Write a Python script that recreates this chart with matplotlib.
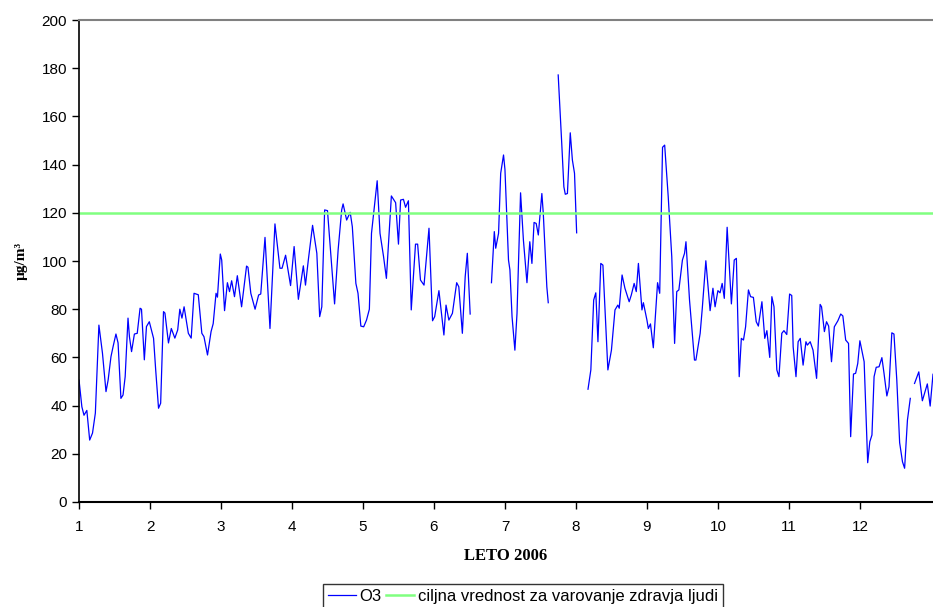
import matplotlib.pyplot as plt
import numpy as np

nan = np.nan

# month position (1 = start of Jan) and daily O3 concentration, NaN = missing data
month = [
    1.00, 1.04, 1.07, 1.11, 1.15, 1.19, 1.23, 1.28, 1.33, 1.38, 1.41, 1.45, 1.48, 1.52, 1.55,
    1.59, 1.62, 1.65, 1.69, 1.71, 1.74, 1.78, 1.82, 1.86, 1.88, 1.92, 1.95, 1.99, 2.05, 2.08,
    2.12, 2.15, 2.19, 2.21, 2.26, 2.30, 2.35, 2.39, 2.42, 2.45, 2.48, 2.54, 2.58, 2.62, 2.68,
    2.73, 2.76, 2.81, 2.86, 2.89, 2.93, 2.95, 2.99, 3.01, 3.05, 3.09, 3.12, 3.15, 3.19, 3.23,
    3.29, 3.36, 3.38, 3.42, 3.48, 3.53, 3.56, 3.62, 3.69, 3.76, 3.83, 3.86, 3.91, 3.98, 4.03,
    4.09, 4.16, 4.19, 4.23, 4.29, 4.35, 4.39, 4.42, 4.46, 4.50, 4.60, 4.65, 4.70, 4.72, 4.77,
    4.82, 4.85, 4.90, 4.93, 4.97, 5.01, 5.05, 5.09, 5.12, 5.20, 5.24, 5.29, 5.33, 5.40, 5.46,
    5.50, 5.53, 5.57, 5.60, 5.64, 5.68, 5.74, 5.77, 5.81, 5.86, 5.93, 5.98, 6.01, 6.07, 6.14,
    6.17, 6.21, 6.26, 6.32, 6.35, 6.40, 6.44, 6.47, 6.51, 6.66,
    6.81, 6.85, 6.87, 6.91, 6.94, 6.98, 7.00, 7.05, 7.07, 7.10, 7.14, 7.17, 7.22, 7.26, 7.31,
    7.35, 7.38, 7.41, 7.44, 7.47, 7.52, 7.54, 7.59, 7.61, 7.68,
    7.75, 7.80, 7.83, 7.85, 7.88, 7.92, 7.95, 7.98, 8.01, 8.09,
    8.17, 8.21, 8.25, 8.28, 8.31, 8.35, 8.38, 8.45, 8.50, 8.55, 8.59, 8.61, 8.65, 8.69, 8.75,
    8.78, 8.82, 8.85, 8.88, 8.93, 8.95, 9.00, 9.02, 9.05, 9.09, 9.15, 9.18, 9.22, 9.25, 9.30,
    9.35, 9.39, 9.42, 9.45, 9.50, 9.53, 9.55, 9.60, 9.67, 9.69, 9.75, 9.78, 9.83, 9.89, 9.93,
    9.96, 10.00, 10.03, 10.06, 10.09, 10.13, 10.19, 10.23, 10.26, 10.30, 10.33, 10.36, 10.39, 10.43, 10.46,
    10.50, 10.54, 10.57, 10.62, 10.66, 10.69, 10.73, 10.76, 10.79, 10.83, 10.86, 10.90, 10.93, 10.97, 11.01,
    11.04, 11.06, 11.10, 11.13, 11.16, 11.20, 11.24, 11.26, 11.30, 11.34, 11.39, 11.44, 11.46, 11.50, 11.53,
    11.56, 11.60, 11.64, 11.69, 11.73, 11.76, 11.80, 11.84, 11.87, 11.91, 11.94, 11.97, 12.00, 12.06, 12.11,
    12.14, 12.17, 12.20, 12.23, 12.27, 12.31, 12.34, 12.38, 12.41, 12.45, 12.48, 12.52, 12.56, 12.60, 12.63,
    12.67, 12.71, 12.74,
    12.77, 12.83, 12.88, 12.95, 12.99, 13.03,
]
o3 = [
    50.6, 39.5, 36.0, 38.0, 25.7, 28.6, 36.9, 73.4, 61.8, 45.8, 50.6, 60.3, 64.5, 69.7, 66.0,
    43.0, 44.4, 52.0, 76.3, 68.6, 62.4, 69.7, 70.0, 80.4, 80.0, 59.0, 72.8, 74.8, 67.9, 54.8,
    38.9, 41.0, 79.0, 78.4, 66.0, 72.0, 68.0, 71.4, 80.0, 76.3, 81.0, 70.0, 68.0, 86.6, 86.0,
    70.0, 68.6, 61.0, 70.7, 74.0, 86.6, 85.0, 102.9, 100.4, 79.4, 91.0, 87.3, 91.8, 85.2, 93.9,
    81.0, 97.9, 97.4, 86.6, 80.0, 85.9, 86.3, 109.8, 72.0, 115.4, 97.0, 97.0, 102.4, 89.8, 106.0,
    84.1, 98.0, 90.0, 100.4, 114.8, 103.2, 76.9, 81.0, 121.2, 120.9, 82.2, 104.6, 121.2, 123.7, 117.0,
    120.2, 114.2, 90.7, 86.6, 73.0, 72.7, 75.5, 80.0, 111.5, 133.3, 111.5, 101.8, 92.8, 127.0, 124.2,
    107.0, 125.3, 125.6, 122.3, 125.0, 79.7, 107.0, 107.0, 92.1, 90.0, 113.6, 75.2, 76.9, 87.7, 69.3,
    81.7, 75.5, 78.3, 91.0, 89.3, 70.0, 93.5, 103.2, 78.0, nan,
    91.0, 112.2, 105.3, 111.5, 136.4, 144.0, 138.0, 100.4, 96.3, 76.9, 63.0, 78.3, 128.3, 108.7, 91.0,
    108.0, 99.0, 116.0, 115.6, 110.8, 128.0, 119.8, 89.3, 82.7, nan,
    177.2, 148.8, 130.8, 127.7, 128.0, 153.2, 141.9, 136.4, 111.7, nan,
    46.8, 54.8, 83.8, 86.8, 66.5, 99.0, 98.3, 54.8, 63.0, 79.7, 81.7, 80.4, 94.2, 88.7, 83.1,
    85.9, 90.7, 87.3, 99.0, 79.7, 82.7, 75.5, 72.0, 73.9, 64.0, 91.0, 86.6, 147.2, 148.1, 126.7,
    101.8, 65.8, 87.3, 88.0, 100.4, 103.2, 108.0, 83.8, 58.9, 58.9, 70.0, 80.4, 100.1, 79.4, 88.7,
    81.0, 87.7, 86.8, 90.7, 84.5, 114.0, 82.2, 100.4, 101.1, 52.0, 67.9, 67.2, 72.7, 88.0, 85.2,
    84.9, 74.8, 73.0, 83.1, 67.9, 71.1, 60.0, 85.2, 81.0, 54.8, 52.0, 70.0, 71.1, 69.5, 86.3,
    85.7, 64.4, 52.0, 66.5, 67.9, 56.8, 66.5, 65.1, 66.5, 63.0, 51.3, 82.0, 81.0, 70.7, 74.8,
    73.0, 58.2, 72.7, 75.2, 78.0, 77.2, 67.2, 65.8, 27.1, 53.1, 53.4, 57.5, 66.9, 58.2, 16.3,
    25.0, 27.8, 52.0, 55.9, 56.1, 59.9, 53.4, 44.0, 47.8, 70.2, 69.7, 50.6, 24.6, 16.7, 14.0,
    34.0, 43.0, nan,
    49.2, 54.0, 42.0, 49.0, 39.8, 53.0,
]
target = 120  # ciljna vrednost

fig = plt.figure(figsize=(9.33, 6.07), dpi=100)
ax = fig.add_axes([0.0847, 0.173, 0.9153, 0.794])

ax.plot(month, o3, color='#0000FF', linewidth=0.9, label='O3')
ax.axhline(target, color='#80FF80', linewidth=1.8,
           label='ciljna vrednost za varovanje zdravja ljudi')

ax.set_xlim(1, 13.03)
ax.set_ylim(0, 200)
ax.set_xticks(range(1, 13))
ax.set_yticks(range(0, 201, 20))
ax.tick_params(labelsize=11, direction='out', length=5, width=1, colors='black')
for lab in ax.get_xticklabels() + ax.get_yticklabels():
    lab.set_fontfamily('Liberation Sans')
ax.tick_params(axis='x', pad=8)

ax.spines['right'].set_visible(False)
ax.spines['top'].set_color('#808080')
ax.spines['top'].set_linewidth(1.5)
ax.spines['left'].set_linewidth(1.2)
ax.spines['bottom'].set_linewidth(1.5)

ax.set_xlabel('LETO 2006', fontsize=12, fontweight='bold', fontfamily='Liberation Serif', labelpad=10)
ax.set_ylabel('µg/m³', fontsize=11, fontweight='bold', fontfamily='Liberation Serif', labelpad=10)

leg = fig.legend(loc='upper left', bbox_to_anchor=(323 / 933, 1 - 584 / 607), ncol=2,
                 frameon=True, fancybox=False, edgecolor='black',
                 prop={'family': 'Liberation Sans', 'size': 12},
                 handlelength=1.7, columnspacing=0.25, handletextpad=0.2,
                 borderpad=0.3, borderaxespad=0)
leg.get_frame().set_linewidth(1.0)

fig.savefig('out.png', dpi=100)
